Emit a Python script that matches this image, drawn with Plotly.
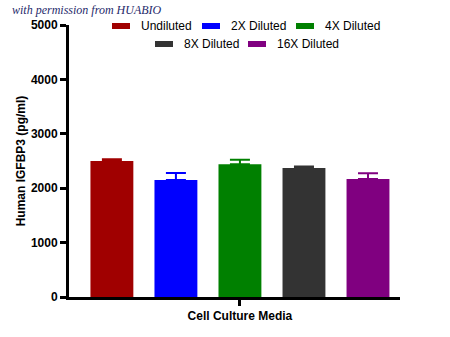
import plotly.graph_objects as go

# Data
category = ["Cell Culture Media"]
series_names = ["Undiluted", "2X Diluted", "4X Diluted", "8X Diluted", "16X Diluted"]
series_means = [2500, 2150, 2440, 2370, 2170]
series_sd = [30, 130, 85, 30, 105]
series_colors = ["#a00000", "#0000ff", "#008000", "#333333", "#800080"]
y_ticks = [0, 1000, 2000, 3000, 4000, 5000]

W, H = 450, 337
ML, MR, MT, MB = 69, 50, 25, 40
PW, PH = W - ML - MR, H - MT - MB

fig = go.Figure()
for name, mean, sd, color in zip(series_names, series_means, series_sd, series_colors):
    fig.add_trace(go.Bar(
        x=category, y=[mean], name=name,
        marker=dict(color=color, line=dict(width=0)),
        error_y=dict(type="data", array=[sd], arrayminus=[0], symmetric=False,
                     color=color, thickness=2, width=10),
        showlegend=False,
    ))

def px_x(p):
    return (p - ML) / PW

def px_y(p):
    return (H - MB - p) / PH

# Legend drawn as flat swatches with labels
legend_rows = [[0, 1, 2], [3, 4]]
row_y = [26, 44]
swatch_x = [[112, 202, 296], [155, 248]]
shapes, annotations = [], []
for r, idxs in enumerate(legend_rows):
    for k, i in enumerate(idxs):
        x0 = swatch_x[r][k]
        shapes.append(dict(type="rect", xref="paper", yref="paper",
                           x0=px_x(x0), x1=px_x(x0 + 18),
                           y0=px_y(row_y[r] + 3), y1=px_y(row_y[r] - 3),
                           fillcolor=series_colors[i], line=dict(width=0)))
        annotations.append(dict(text=series_names[i], xref="paper", yref="paper",
                                x=px_x(x0 + 27), y=px_y(row_y[r]),
                                xanchor="left", yanchor="middle", showarrow=False,
                                font=dict(family="Liberation Sans, Arial", size=12, color="#000")))

annotations.append(dict(text="<i>with permission from HUABIO</i>", xref="paper", yref="paper",
                        x=px_x(10), y=px_y(10), xanchor="left", yanchor="middle",
                        showarrow=False,
                        font=dict(family="Liberation Serif, serif", size=12, color="#1f2a6b")))

fig.update_layout(
    width=W, height=H,
    margin=dict(l=ML, r=MR, t=MT, b=MB),
    paper_bgcolor="white", plot_bgcolor="white",
    barmode="group", bargap=0, bargroupgap=0.33,
    shapes=shapes, annotations=annotations,
    font=dict(family="Liberation Sans, Arial", color="#000"),
)
fig.update_xaxes(
    type="category", range=[-0.534, 0.5],
    showline=True, linecolor="#000", linewidth=3,
    ticks="outside", ticklen=6, tickwidth=2.5, tickcolor="#000",
    tickfont=dict(size=12, family="Liberation Sans, Arial", weight="bold"),
    showgrid=False, zeroline=False,
)
fig.update_yaxes(
    range=[0, 5000], tickvals=y_ticks,
    showline=True, linecolor="#000", linewidth=3,
    ticks="outside", ticklen=6, tickwidth=2.5, tickcolor="#000",
    tickfont=dict(size=12, family="Liberation Sans, Arial", weight="bold"),
    title=dict(text="Human IGFBP3 (pg/ml)", standoff=3,
               font=dict(size=12, family="Liberation Sans, Arial", weight="bold")),
    showgrid=False, zeroline=False,
)

fig.write_html("out.html")
